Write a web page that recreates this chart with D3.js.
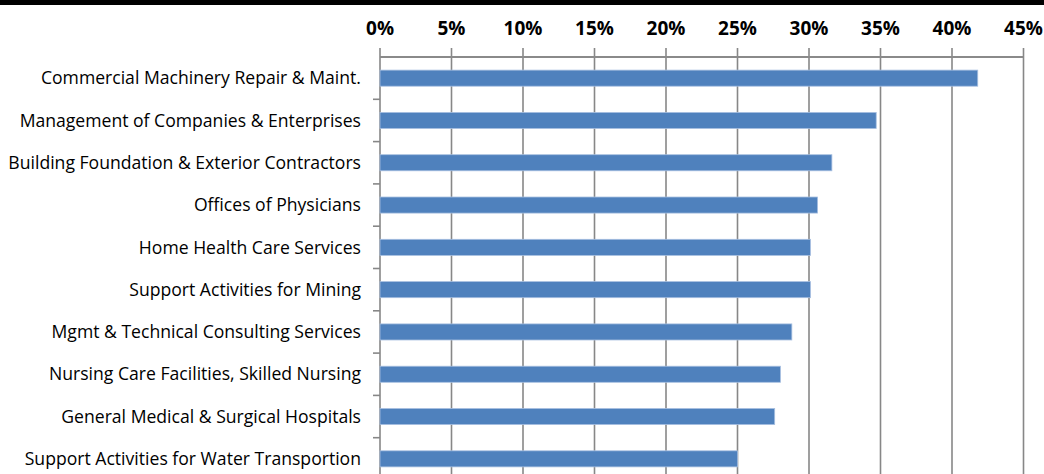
<!DOCTYPE html>
<html>
<head>
<meta charset="utf-8">
<script src="https://cdn.jsdelivr.net/npm/d3@7"></script>
<style>
  body { margin: 0; background: #fff; overflow: hidden; }
  svg { display: block; }
</style>
</head>
<body>
<svg class="bar_svg" width="1044" height="474"></svg>
<script>
// categories top to bottom
const industries = [
    "Commercial Machinery Repair & Maint.",
    "Management of Companies & Enterprises",
    "Building Foundation & Exterior Contractors",
    "Offices of Physicians",
    "Home Health Care Services",
    "Support Activities for Mining",
    "Mgmt & Technical Consulting Services",
    "Nursing Care Facilities, Skilled Nursing",
    "General Medical & Surgical Hospitals",
    "Support Activities for Water Transportion"
]
const shares = [41.8, 34.7, 31.6, 30.6, 30.1, 30.1, 28.8, 28.0, 27.6, 25.0]
const xTicks = [0, 5, 10, 15, 20, 25, 30, 35, 40, 45]

const svg = d3.select("svg.bar_svg")
const margin = { top: 57, left: 380 }
const width = 1023.5 - margin.left
const band = 42.3

// black strip across the top
svg.append("rect")
    .attr("x", 0).attr("y", 0)
    .attr("width", 1044).attr("height", 5)
    .attr("fill", "#000")

const x = d3.scaleLinear().domain([0, 45]).range([0, width])
const y = d3.scaleBand()
    .domain(industries)
    .range([0, band * industries.length])
    .paddingInner(0.62)
    .paddingOuter(0.31)

const g = svg.append("g")
    .attr("transform", `translate(${margin.left},${margin.top})`)

// vertical gridlines
g.append("g")
    .selectAll("line")
    .data(xTicks)
    .join("line")
    .attr("x1", d => x(d)).attr("x2", d => x(d))
    .attr("y1", -9).attr("y2", 480)
    .attr("stroke", "#878787")
    .attr("stroke-width", 1.6)

// top axis line
g.append("line")
    .attr("x1", 0).attr("x2", width)
    .attr("y1", 0).attr("y2", 0)
    .attr("stroke", "#8a8a8a")
    .attr("stroke-width", 2)

// category ticks on the left axis
g.append("g")
    .selectAll("line")
    .data(d3.range(1, industries.length))
    .join("line")
    .attr("x1", -7).attr("x2", 0)
    .attr("y1", d => d * band).attr("y2", d => d * band)
    .attr("stroke", "#878787")
    .attr("stroke-width", 1.6)

// percent labels
g.append("g")
    .selectAll("text")
    .data(xTicks)
    .join("text")
    .attr("x", d => x(d))
    .attr("y", -22)
    .attr("text-anchor", "middle")
    .attr("font-family", "'Open Sans', sans-serif")
    .attr("font-weight", "bold")
    .attr("font-size", 19)
    .attr("fill", "#000")
    .text(d => d + "%")

// bars
g.append("g")
    .selectAll("rect")
    .data(shares)
    .join("rect")
    .attr("x", 0)
    .attr("y", (d, i) => y(industries[i]))
    .attr("width", d => x(d))
    .attr("height", y.bandwidth())
    .attr("fill", "#4f81bd")
    .attr("stroke", "#a7bfe0")
    .attr("stroke-width", 0.8)

// category labels
g.append("g")
    .selectAll("text")
    .data(industries)
    .join("text")
    .attr("x", -19)
    .attr("y", d => y(d) + y.bandwidth() / 2)
    .attr("dy", "0.35em")
    .attr("text-anchor", "end")
    .attr("font-family", "'Open Sans', sans-serif")
    .attr("font-size", 17.6)
    .attr("fill", "#000")
    .text(d => d)
</script>
</body>
</html>
